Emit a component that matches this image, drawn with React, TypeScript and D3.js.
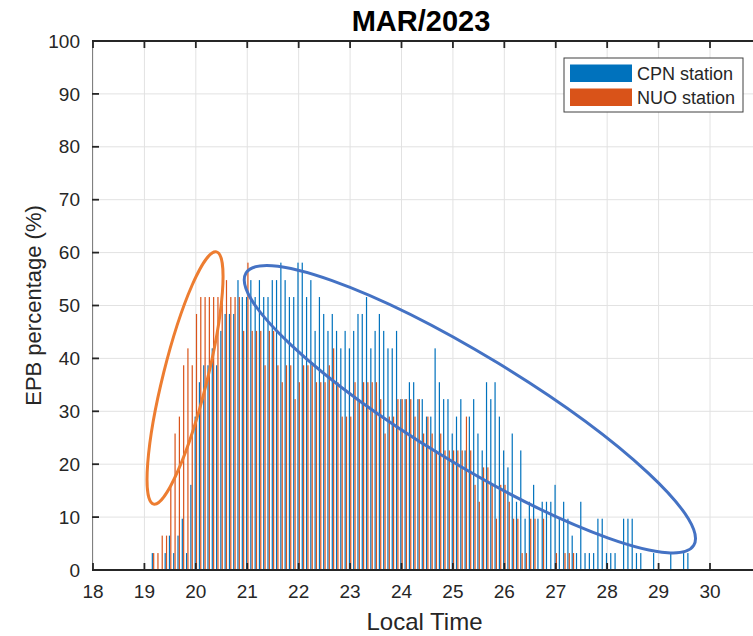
import React from 'react';
import * as d3 from 'd3';

const W = 753;
const H = 636;

// Local time bin centres (hours, 5-minute bins)
const localTime = [
  19.167, 19.25, 19.333, 19.417, 19.5, 19.583, 19.667, 19.75, 19.833, 19.917,
  20, 20.083, 20.167, 20.25, 20.333, 20.417, 20.5, 20.583, 20.667, 20.75,
  20.833, 20.917, 21, 21.083, 21.167, 21.25, 21.333, 21.417, 21.5, 21.583,
  21.667, 21.75, 21.833, 21.917, 22, 22.083, 22.167, 22.25, 22.333, 22.417,
  22.5, 22.583, 22.667, 22.75, 22.833, 22.917, 23, 23.083, 23.167, 23.25,
  23.333, 23.417, 23.5, 23.583, 23.667, 23.75, 23.833, 23.917, 24, 24.083,
  24.167, 24.25, 24.333, 24.417, 24.5, 24.583, 24.667, 24.75, 24.833, 24.917,
  25, 25.083, 25.167, 25.25, 25.333, 25.417, 25.5, 25.583, 25.667, 25.75,
  25.833, 25.917, 26, 26.083, 26.167, 26.25, 26.333, 26.417, 26.5, 26.583,
  26.667, 26.75, 26.833, 26.917, 27, 27.083, 27.167, 27.25, 27.333, 27.417,
  27.5, 27.583, 27.667, 27.75, 27.833, 27.917, 28, 28.083, 28.167, 28.25,
  28.333, 28.417, 28.5, 28.583, 28.667, 28.75, 28.833, 28.917, 29, 29.083,
  29.167, 29.25, 29.333, 29.417, 29.5, 29.583,
];

const cpnPct = [
  3.2, 0, 0, 3.2, 6.5, 3.2, 6.5, 9.7, 3.2, 16.1,
  29.0, 35.5, 38.7, 38.7, 41.9, 38.7, 45.2, 48.4, 48.4, 48.4,
  54.8, 51.6, 51.6, 54.8, 51.6, 54.8, 51.6, 51.6, 54.8, 54.8,
  58.1, 54.8, 51.6, 51.6, 58.1, 58.1, 51.6, 54.8, 45.2, 51.6,
  48.4, 45.2, 48.4, 45.2, 41.9, 45.2, 41.9, 45.2, 48.4, 48.4,
  51.6, 41.9, 45.2, 48.4, 45.2, 41.9, 41.9, 45.2, 32.3, 32.3,
  35.5, 35.5, 32.3, 32.3, 29.0, 29.0, 41.9, 35.5, 32.3, 32.3,
  25.8, 29.0, 32.3, 22.6, 29.0, 32.3, 25.8, 22.6, 35.5, 32.3,
  35.5, 29.0, 22.6, 19.4, 25.8, 12.9, 22.6, 9.7, 12.9, 16.1,
  9.7, 12.9, 12.9, 12.9, 16.1, 9.7, 12.9, 9.7, 6.5, 3.2,
  12.9, 3.2, 3.2, 3.2, 9.7, 9.7, 3.2, 3.2, 3.2, 0,
  9.7, 9.7, 9.7, 3.2, 3.2, 0, 0, 3.2, 0, 0,
  0, 3.2, 0, 0, 3.2, 3.2,
];

const nuoPct = [
  3.2, 3.2, 6.5, 6.5, 16.1, 25.8, 29.0, 38.7, 41.9, 38.7,
  48.4, 51.6, 51.6, 51.6, 51.6, 51.6, 51.6, 54.8, 51.6, 51.6,
  51.6, 45.2, 58.1, 45.2, 45.2, 45.2, 38.7, 45.2, 45.2, 38.7,
  35.5, 38.7, 38.7, 32.3, 35.5, 38.7, 38.7, 38.7, 35.5, 35.5,
  35.5, 38.7, 41.9, 35.5, 29.0, 29.0, 29.0, 35.5, 32.3, 35.5,
  35.5, 35.5, 35.5, 32.3, 25.8, 29.0, 29.0, 32.3, 32.3, 32.3,
  32.3, 29.0, 32.3, 25.8, 29.0, 25.8, 22.6, 25.8, 22.6, 22.6,
  22.6, 22.6, 22.6, 29.0, 22.6, 16.1, 12.9, 19.4, 19.4, 16.1,
  9.7, 16.1, 16.1, 12.9, 9.7, 9.7, 3.2, 3.2, 9.7, 9.7,
  0, 9.7, 0, 0, 3.2, 0, 3.2, 3.2, 3.2, 0,
  0, 0, 0, 0, 0, 0, 0, 0, 0, 0,
  0, 0, 0, 0, 0, 0, 0, 0, 0, 0,
  0, 0, 0, 0, 0, 0,
];

const xTicks = [18, 19, 20, 21, 22, 23, 24, 25, 26, 27, 28, 29, 30];
const yTicks = [0, 10, 20, 30, 40, 50, 60, 70, 80, 90, 100];
const seriesNames = ['CPN station', 'NUO station'];
const seriesColors = ['#0072BD', '#D95319'];

// hand-drawn ellipse annotations: centre in data units
const annotCenters = [
  { t: 19.79, v: 36.3 },
  { t: 25.33, v: 30.4 },
];
const annotColors = ['#ED7D31', '#4472C4'];

const FONT = '"Liberation Sans", Arial, Helvetica, sans-serif';
const TXT = '#262626';

export default function App() {
  const x = d3.scaleLinear().domain([18, 30]).range([93, 710]);
  const y = d3.scaleLinear().domain([0, 100]).range([570, 41]);
  const left = 92;
  const right = 758;
  const top = y(100);
  const bottom = y(0);
  const barW = 1.2;
  const off = 0.68;

  const ell = [
    { rx: 22, ry: 130, rot: 14 },
    { rx: 262, ry: 54, rot: 31.3 },
  ];

  return (
    <div style={{ position: 'fixed', left: 0, top: 0 }}>
      <svg width={W} height={H} style={{ display: 'block', background: '#fff' }}>
        <rect x={0} y={0} width={W} height={H} fill="#fff" />
        {/* grid */}
        {xTicks.map((t) => (
          <line key={'gx' + t} x1={x(t)} x2={x(t)} y1={top} y2={bottom} stroke="#e2e2e2" strokeWidth={1} />
        ))}
        {yTicks.map((v) => (
          <line key={'gy' + v} x1={left} x2={right} y1={y(v)} y2={y(v)} stroke="#e2e2e2" strokeWidth={1} />
        ))}
        {/* bars */}
        {localTime.map((t, i) =>
          cpnPct[i] > 0 ? (
            <rect key={'b' + i} x={x(t) - off - barW / 2} y={y(cpnPct[i])} width={barW}
              height={y(0) - y(cpnPct[i])} fill={seriesColors[0]} />
          ) : null
        )}
        {localTime.map((t, i) =>
          nuoPct[i] > 0 ? (
            <rect key={'o' + i} x={x(t) + off - barW / 2} y={y(nuoPct[i])} width={barW}
              height={y(0) - y(nuoPct[i])} fill={seriesColors[1]} />
          ) : null
        )}
        {/* axes */}
        <line x1={left + 0.5} x2={left + 0.5} y1={top} y2={bottom} stroke="#808080" strokeWidth={1} />
        <line x1={left} x2={right} y1={bottom} y2={bottom} stroke={TXT} strokeWidth={2} />
        <line x1={left} x2={right} y1={top} y2={top} stroke={TXT} strokeWidth={2} />
        {xTicks.map((t) => (
          <g key={'xt' + t}>
            <line x1={x(t)} x2={x(t)} y1={bottom} y2={bottom - 7} stroke={TXT} strokeWidth={1.8} />
            <line x1={x(t)} x2={x(t)} y1={top} y2={top + 7} stroke={TXT} strokeWidth={1.8} />
            <text x={x(t)} y={598} textAnchor="middle" fontFamily={FONT} fontSize={19} fill={TXT}>{t}</text>
          </g>
        ))}
        {yTicks.map((v) => (
          <g key={'yt' + v}>
            <line x1={left} x2={left + 7} y1={y(v)} y2={y(v)} stroke={TXT} strokeWidth={1.8} />
            <text x={80} y={y(v)} dy="0.35em" textAnchor="end" fontFamily={FONT} fontSize={19} fill={TXT}>{v}</text>
          </g>
        ))}
        {/* ellipse annotations */}
        {annotCenters.map((c, i) => (
          <ellipse key={'e' + i} cx={x(c.t)} cy={y(c.v)} rx={ell[i].rx} ry={ell[i].ry}
            transform={`rotate(${ell[i].rot}, ${x(c.t)}, ${y(c.v)})`}
            fill="none" stroke={annotColors[i]} strokeWidth={3} />
        ))}
        {/* legend */}
        <rect x={564} y={58} width={179} height={54} fill="#fff" stroke="#404040" strokeWidth={1} />
        {seriesNames.map((n, i) => (
          <g key={'lg' + i}>
            <rect x={570} y={64.5 + i * 24} width={62} height={17.5} fill={seriesColors[i]} />
            <text x={637} y={80 + i * 24} fontFamily={FONT} fontSize={18} fill={TXT}>{n}</text>
          </g>
        ))}
        {/* titles */}
        <text x={421} y={31} textAnchor="middle" fontFamily={FONT} fontSize={29} fontWeight="bold" fill="#000">MAR/2023</text>
        <text x={424.5} y={630} textAnchor="middle" fontFamily={FONT} fontSize={24} fill={TXT}>Local Time</text>
        <text transform={`translate(41, ${(top + bottom) / 2}) rotate(-90)`} textAnchor="middle"
          fontFamily={FONT} fontSize={22} fill={TXT}>EPB percentage (%)</text>
      </svg>
    </div>
  );
}
